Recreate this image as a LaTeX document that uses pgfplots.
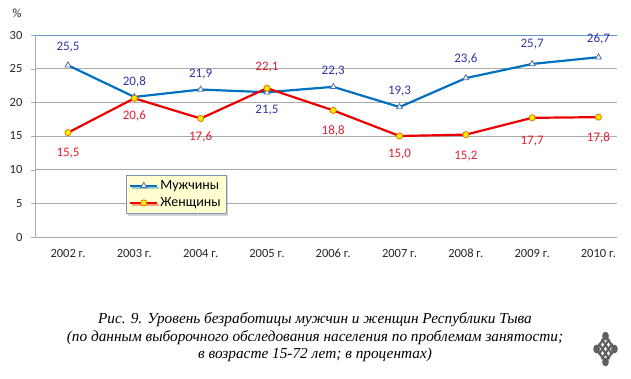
\documentclass[border=0pt]{standalone}
\usepackage{fontspec}
\setmainfont{Carlito}
\newfontfamily\capfont{Liberation Serif}
\usepackage{pgfplots}
\usepackage{pgfplotstable}
\pgfplotsset{compat=1.18}
\usetikzlibrary{shadows}
\definecolor{menline}{RGB}{0,112,192}
\definecolor{mtri}{RGB}{79,110,170}
\definecolor{mlabel}{RGB}{50,50,170}
\definecolor{wline}{RGB}{235,0,0}
\definecolor{wfill}{RGB}{255,235,0}
\definecolor{wborder}{RGB}{220,120,0}
\definecolor{wlabel}{RGB}{225,30,45}
\definecolor{gridgray}{RGB}{170,170,170}
\definecolor{topblue}{RGB}{100,150,210}
\definecolor{legfill}{RGB}{255,255,210}
\definecolor{legborder}{RGB}{120,150,185}
\definecolor{knot}{RGB}{95,95,95}
\pgfplotstableread{
x men mdy women wdy
0 25.5 18 15.5 -21
1 20.8 15 20.6 -18
2 21.9 15 17.6 -18
3 21.5 -18 22.1 21
4 22.3 16 18.8 -20
5 19.3 16 15.0 -18
6 23.6 19 15.2 -21
7 25.7 20 17.7 -23
8 26.7 18 17.8 -21
}\datatable
\begin{document}
\begin{tikzpicture}[x=1pt,y=1pt]
\path[use as bounding box] (0,0) rectangle (631,378);
\begin{axis}[
  at={(34.9pt,141pt)}, anchor=south west,
  scale only axis, width=582.1pt, height=202pt,
  xmin=-0.5, xmax=8.28, ymin=0, ymax=30,
  /pgf/number format/assume math mode=true,
  axis x line*=bottom, axis y line*=left,
  axis line style={draw=gridgray, -},
  tick style={draw=gridgray},
  tick align=outside,
  major tick length=4pt,
  ytick={0,5,...,30},
  ymajorgrids, grid style={draw=gridgray, line width=0.6pt},
  extra y ticks={30}, extra y tick labels={},
  extra y tick style={grid style={draw=topblue, line width=0.8pt}, major tick length=0pt},
  xtick={0,...,8},
  xticklabels={2002 г.,2003 г.,2004 г.,2005 г.,2006 г.,2007 г.,2008 г.,2009 г.,2010 г.},
  x tick style={draw=none},
  extra x ticks={-0.5,0.5,...,7.5}, extra x tick labels={},
  extra x tick style={tick style={draw=gridgray}, major tick length=4pt},
  tick label style={font=\fontsize{12.5}{14}\selectfont, text=black!85},
  xticklabel style={yshift=-4pt, text height=9pt, text depth=2pt},
  yticklabel style={xshift=-5pt},
  legend style={at={(0.1565,0.307)}, anchor=north west, fill=legfill, draw=legborder,
    drop shadow={shadow xshift=2pt, shadow yshift=-2pt, opacity=0.35},
    font=\fontsize{14}{16}\selectfont, row sep=2.5pt, inner xsep=3pt, inner ysep=3.5pt,
    legend cell align=left},
  legend image code/.code={\draw[mark repeat=2,mark phase=2,#1] plot coordinates {(0pt,0pt) (13.5pt,0pt) (27pt,0pt)};},
  nodes near coords={\pgfmathprintnumber[use comma, fixed, fixed zerofill, precision=1]{\pgfplotspointmeta}},
  point meta=y,
]
\addplot[menline, line width=2.2pt, mark=triangle*, mark size=3.4pt,
  mark options={fill=white, draw=mtri, line width=0.8pt},
  visualization depends on={\thisrow{mdy} \as \dy},
  every node near coord/.append style={anchor=center, yshift=\dy pt, text=mlabel, font=\fontsize{13}{15}\selectfont}]
  table[x=x, y=men] {\datatable};
\addlegendentry{Мужчины}
\addplot[wline, line width=2.2pt, mark=*, mark size=3.1pt,
  mark options={fill=wfill, draw=wborder, line width=0.8pt},
  visualization depends on={\thisrow{wdy} \as \dy},
  every node near coord/.append style={anchor=center, yshift=\dy pt, text=wlabel, font=\fontsize{13}{15}\selectfont}]
  table[x=x, y=women] {\datatable};
\addlegendentry{Женщины}
\end{axis}
\node[font=\fontsize{12.5}{14}\selectfont, text=black!85] at (17,365) {\%};
\begin{scope}[font=\capfont\itshape\fontsize{15.3}{17}\selectfont]
\node at (315,58) {Рис. 9. Уровень безработицы мужчин и женщин Республики Тыва};
\node at (315,40.5) {(по данным выборочного обследования населения по проблемам занятости;};
\node at (315,23) {в возрасте 15-72 лет; в процентах)};
\end{scope}
\begin{scope}[shift={(605.5,29)}, yscale=1.45, rotate=45]
\foreach \k in {-1.5,-0.5,0.5,1.5} {
  \draw[knot, line width=2.2pt] (-7.5,\k*4.2) -- (7.5,\k*4.2);
  \draw[knot, line width=2.2pt] (\k*4.2,-7.5) -- (\k*4.2,7.5);
}
\draw[knot, line width=2.2pt] (-6.3,-6.3) circle (2.2);
\draw[knot, line width=2.2pt] (6.3,6.3) circle (2.2);
\draw[knot, line width=2.2pt] (-6.3,6.3) circle (2.2);
\draw[knot, line width=2.2pt] (6.3,-6.3) circle (2.2);
\end{scope}
\end{tikzpicture}
\end{document}
